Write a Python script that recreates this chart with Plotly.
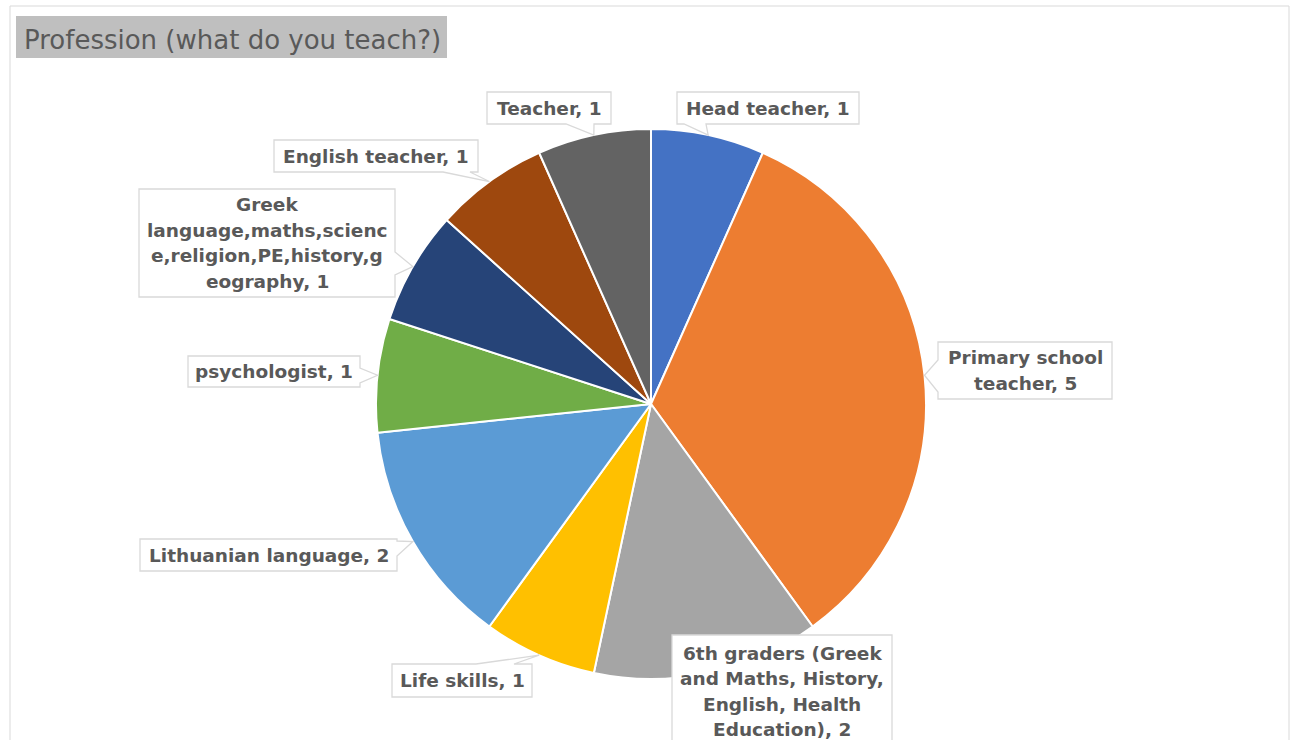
import math
import plotly.graph_objects as go

# ---- data ----
categories = [
    "Head teacher",
    "Primary school teacher",
    "6th graders (Greek and Maths, History, English, Health Education)",
    "Life skills",
    "Lithuanian language",
    "psychologist",
    "Greek language,maths,science,religion,PE,history,geography",
    "English teacher",
    "Teacher",
]
counts = [1, 5, 2, 1, 2, 1, 1, 1, 1]
slice_colors = [
    "#4472C4", "#ED7D31", "#A5A5A5", "#FFC000", "#5B9BD5",
    "#70AD47", "#264478", "#9E480E", "#636363",
]
title_text = "Profession (what do you teach?)"

# ---- canvas geometry (pixels) ----
W, H = 1290, 740
CX, CY, R = 651, 404, 275
TEXT_COLOR = "#595959"
BOX_LINE = "#D9D9D9"
LINE_STEP = 25.5
FONT = "DejaVu Sans"
FSIZE = 18.5


def px(x):
    return x / W


def py(y):
    return 1 - y / H


# callout layout: box (left, top, right, bottom), tail side, tail base span,
# line-break lengths for wrapped labels
callouts = {
    "Head teacher": dict(box=(677, 92, 859, 124), side="bottom", base=(684, 706), wrap=[]),
    "Primary school teacher": dict(box=(938, 342, 1112, 399), side="left", base=(360, 392), wrap=[14]),
    "6th graders (Greek and Maths, History, English, Health Education)": dict(
        box=(672, 635, 892, 760), side=None, base=None, wrap=[18, 19, 15]),
    "Life skills": dict(box=(392, 664, 532, 697), side="top", base=(476, 514), wrap=[]),
    "Lithuanian language": dict(box=(140, 539, 397, 571), side="right", base=(541, 556), wrap=[]),
    "psychologist": dict(box=(188, 356, 360, 387), side="right", base=(368, 383), wrap=[]),
    "Greek language,maths,science,religion,PE,history,geography": dict(
        box=(139, 189, 395, 297), side="right", base=(252, 275), wrap=[5, 21, 23]),
    "English teacher": dict(box=(274, 140, 478, 172), side="bottom", base=(443, 470), wrap=[]),
    "Teacher": dict(box=(487, 92, 611, 124), side="bottom", base=(566, 594), wrap=[]),
}


def split_lines(text, lengths):
    lines, rest = [], text
    for n in lengths:
        lines.append(rest[:n])
        rest = rest[n:].lstrip(" ")
    lines.append(rest)
    return lines


def callout_path(box, side, base, tip):
    x0, y0, x1, y1 = box
    if side == "bottom":
        a, b = base
        pts = [(x0, y0), (x1, y0), (x1, y1), (b, y1), tip, (a, y1), (x0, y1)]
    elif side == "top":
        a, b = base
        pts = [(x0, y0), (a, y0), tip, (b, y0), (x1, y0), (x1, y1), (x0, y1)]
    elif side == "right":
        a, b = base
        pts = [(x0, y0), (x1, y0), (x1, a), tip, (x1, b), (x1, y1), (x0, y1)]
    elif side == "left":
        a, b = base
        pts = [(x0, y0), (x1, y0), (x1, y1), (x0, y1), (x0, b), tip, (x0, a)]
    else:
        pts = [(x0, y0), (x1, y0), (x1, y1), (x0, y1)]
    d = "M " + " L ".join(f"{px(x):.5f},{py(y):.5f}" for x, y in pts) + " Z"
    return d


fig = go.Figure()
fig.add_trace(go.Pie(
    labels=categories,
    values=counts,
    sort=False,
    direction="clockwise",
    rotation=0,
    marker=dict(colors=slice_colors, line=dict(color="white", width=2)),
    textinfo="none",
    hoverinfo="label+value",
    showlegend=False,
    domain=dict(x=[px(CX - R), px(CX + R)], y=[py(CY + R), py(CY - R)]),
))

shapes = [
    # chart frame
    dict(type="rect", xref="paper", yref="paper",
         x0=px(10), x1=px(1289), y0=py(760), y1=py(6),
         line=dict(color=BOX_LINE, width=1), fillcolor="rgba(0,0,0,0)", layer="below"),
    # title background
    dict(type="rect", xref="paper", yref="paper",
         x0=px(16), x1=px(447), y0=py(58), y1=py(16),
         line=dict(width=0), fillcolor="#BFBFBF", layer="below"),
]
annotations = [
    dict(text=title_text, xref="paper", yref="paper", x=px(22), y=py(40),
         xanchor="left", yanchor="middle", showarrow=False,
         font=dict(family=FONT, size=26, color=TEXT_COLOR)),
]

total = sum(counts)
cum = 0
for cat, val in zip(categories, counts):
    mid = (cum + val / 2) / total * 2 * math.pi
    cum += val
    tip = (CX + R * math.sin(mid), CY - R * math.cos(mid))
    spec = callouts[cat]
    shapes.append(dict(
        type="path", xref="paper", yref="paper",
        path=callout_path(spec["box"], spec["side"], spec["base"], tip),
        line=dict(color=BOX_LINE, width=1.3), fillcolor="white", layer="above",
    ))
    x0, y0, x1, y1 = spec["box"]
    lines = split_lines(f"{cat}, {val}", spec["wrap"])
    if spec["side"] is None:
        # box runs past the bottom edge; stack lines from its top
        first = y0 + 18
    else:
        first = (y0 + y1) / 2 - LINE_STEP * (len(lines) - 1) / 2
    for i, line in enumerate(lines):
        annotations.append(dict(
            text=f"<b>{line}</b>", xref="paper", yref="paper",
            x=px((x0 + x1) / 2), y=py(first + i * LINE_STEP),
            xanchor="center", yanchor="middle", showarrow=False,
            font=dict(family=FONT, size=FSIZE, color=TEXT_COLOR),
        ))

fig.update_layout(
    width=W, height=H,
    margin=dict(l=0, r=0, t=0, b=0),
    paper_bgcolor="white",
    plot_bgcolor="white",
    shapes=shapes,
    annotations=annotations,
)

fig.write_html("out.html")
